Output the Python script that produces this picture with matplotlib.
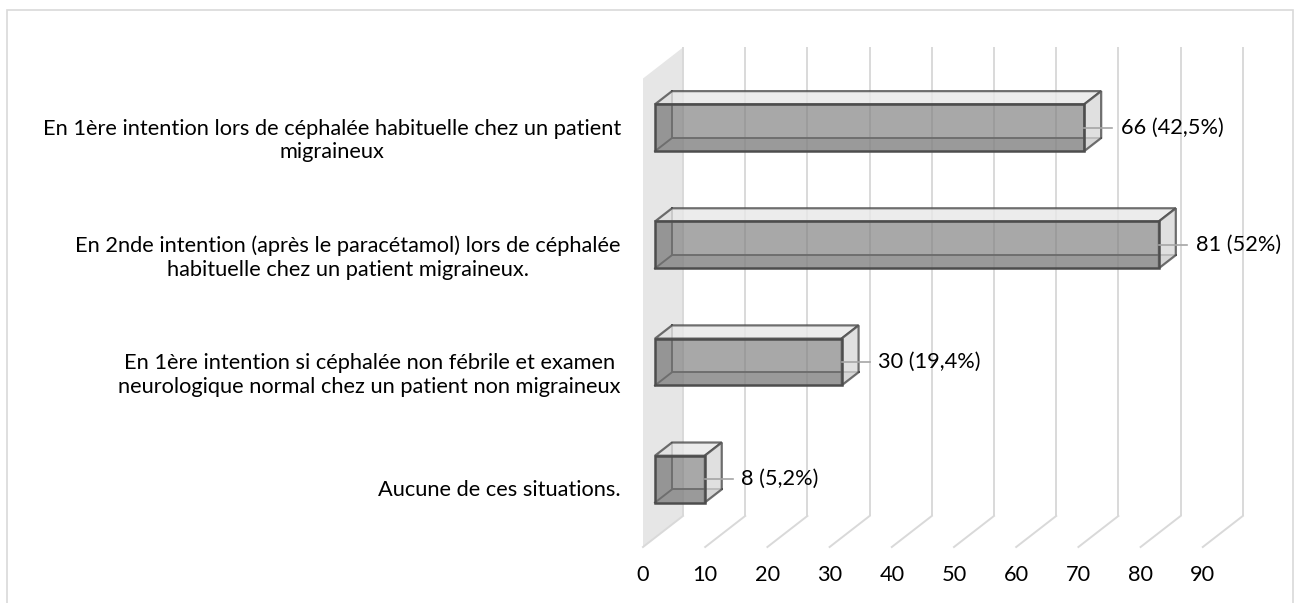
import matplotlib.pyplot as plt
from matplotlib.patches import Polygon, Rectangle

# Données (du bas vers le haut, comme dans Excel)
categories = [
    "Aucune de ces situations.",
    "En 1ère intention si céphalée non fébrile et examen\nneurologique normal chez un patient non migraineux",
    "En 2nde intention (après le paracétamol) lors de céphalée\nhabituelle chez un patient migraineux.",
    "En 1ère intention lors de céphalée habituelle chez un patient\nmigraineux",
]
effectifs = [8, 30, 81, 66]
pourcentages = ["5,2%", "19,4%", "52%", "42,5%"]
# longueur des barres telle que dessinée sur le graphique d'origine
longueurs = [8, 30, 81, 69]
graduations = [0, 10, 20, 30, 40, 50, 60, 70, 80, 90]

plt.rcParams['font.family'] = ['Lato', 'DejaVu Sans']
FS = 15.7

fig = plt.figure(figsize=(12.99, 6.03), dpi=100)
W, H = 1299, 603
ax = fig.add_axes([643 / W, (H - 547) / H, 622 / W, 468.5 / H])
ax.set_xlim(0, 100)
ax.set_ylim(-0.5, 3.5)

# vecteur de profondeur (perspective oblique)
DX, DY = 6.43, 0.265
d0, d1 = 0.3, 0.725
h = 0.4
grid_c = '#d9d9d9'
edge_c = '#4d4d4d'

# mur gauche
ax.add_patch(Polygon([(0, -0.5), (0, 3.5), (DX, 3.5 + DY), (DX, -0.5 + DY)],
                     closed=True, facecolor='#e6e6e6', edgecolor='none',
                     clip_on=False, zorder=1))

# quadrillage (mur du fond + sol)
for g in graduations:
    ax.plot([g + DX, g + DX], [-0.5 + DY, 3.5 + DY], color=grid_c, lw=1.4,
            clip_on=False, zorder=2, solid_capstyle='butt')
    ax.plot([g + DX, g], [-0.5 + DY, -0.5], color=grid_c, lw=1.4,
            clip_on=False, zorder=2)

# barres 3D
bx, by = (d1 - d0) * DX, (d1 - d0) * DY
for c, (v, n, p) in enumerate(zip(longueurs, effectifs, pourcentages)):
    x0, x1 = d0 * DX, v + d0 * DX
    y0, y1 = c - h / 2 + d0 * DY, c + h / 2 + d0 * DY
    # faces cachées
    ax.add_patch(Polygon([(x0, y0), (x0, y1), (x0 + bx, y1 + by), (x0 + bx, y0 + by)],
                         facecolor='#a0a0a0', alpha=0.45, edgecolor='none', zorder=3, clip_on=False))
    ax.add_patch(Polygon([(x0, y0), (x1, y0), (x1 + bx, y0 + by), (x0 + bx, y0 + by)],
                         facecolor='#a0a0a0', alpha=0.45, edgecolor='none', zorder=3, clip_on=False))
    ax.plot([x0 + bx, x0 + bx, x1 + bx], [y1 + by, y0 + by, y0 + by], color=edge_c, lw=1.4,
            zorder=4, clip_on=False)
    ax.plot([x0, x0 + bx], [y0, y0 + by], color=edge_c, lw=1.4, zorder=4, clip_on=False)
    # dessus et côté droit
    ax.add_patch(Polygon([(x0, y1), (x1, y1), (x1 + bx, y1 + by), (x0 + bx, y1 + by)],
                         facecolor='#e8e8e8', alpha=0.8, edgecolor=edge_c, lw=1.6, zorder=5,
                         clip_on=False))
    ax.add_patch(Polygon([(x1, y0), (x1, y1), (x1 + bx, y1 + by), (x1 + bx, y0 + by)],
                         facecolor='#d9d9d9', alpha=0.8, edgecolor=edge_c, lw=1.6, zorder=5,
                         clip_on=False))
    # face avant
    ax.add_patch(Rectangle((x0, y0), x1 - x0, y1 - y0, facecolor='#7f7f7f', alpha=0.68,
                           edgecolor='none', zorder=6, clip_on=False))
    ax.add_patch(Rectangle((x0, y0), x1 - x0, y1 - y0, facecolor='none',
                           edgecolor=edge_c, lw=1.8, zorder=7, clip_on=False))
    # étiquette de données avec ligne de rappel
    yc = c + d0 * DY
    ax.plot([x1, x1 + 4.5], [yc, yc], color='#a6a6a6', lw=1.2, zorder=7, clip_on=False)
    ax.text(x1 + 5.9, yc, f"{n} ({p})", fontsize=FS, va='center', ha='left', color='black')

ax.set_xticks(graduations)
ax.set_xticklabels([str(g) for g in graduations])
ax.set_yticks(range(len(categories)))
ax.set_yticklabels(categories, multialignment='center', linespacing=1.2)
ax.tick_params(axis='x', length=0, pad=13, labelsize=FS)
ax.tick_params(axis='y', length=0, pad=16, labelsize=FS)
for lab in ax.get_yticklabels():
    lab.set_y(lab.get_position()[1])
for s in ax.spines.values():
    s.set_visible(False)
ax.set_facecolor('none')

# cadre du graphique
fig.patches.append(Rectangle((7 / W, -0.1), (1293 - 7) / W, 1.1 - 10 / H, transform=fig.transFigure,
                             fill=False, edgecolor='#d9d9d9', lw=1.2))

plt.savefig('out.png', dpi=100)
